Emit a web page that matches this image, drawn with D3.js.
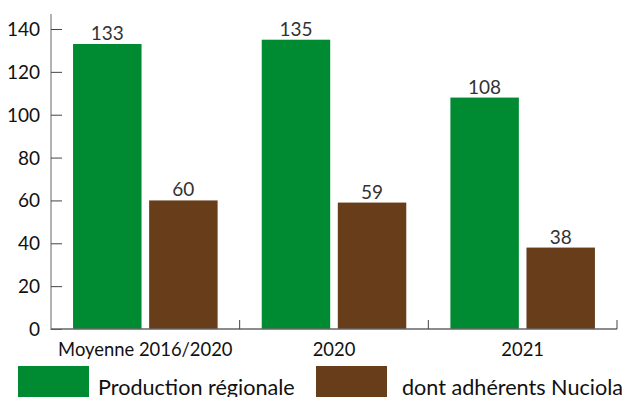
<!DOCTYPE html>
<html lang="fr">
<head>
<meta charset="UTF-8">
<title>Production</title>
<script src="https://d3js.org/d3.v7.min.js"></script>
<style>
  body { margin: 0; background: #fff; }
  svg text { font-family: Lato, "Open Sans", sans-serif; }
</style>
</head>
<body>
<svg width="622" height="397"></svg>
<script>
var categories = ["Moyenne 2016/2020", "2020", "2021"];
var seriesNames = ["Production régionale", "dont adhérents Nuciola"];
var production = [133, 135, 108];
var nuciola = [60, 59, 38];
var yTicks = [0, 20, 40, 60, 80, 100, 120, 140];
var colors = ["#008a32", "#673d1a"];

var svg = d3.select("svg");
var plotLeft = 51, plotRight = 617, plotTop = 14, plotBottom = 329;

var x0 = d3.scaleBand().domain(categories).range([plotLeft, plotRight]).padding(0);
var x1 = d3.scaleBand().domain([0, 1]).range([0, x0.bandwidth()])
    .paddingInner(0.1).paddingOuter(0.29);
var y = d3.scaleLinear().domain([0, 147]).range([plotBottom, plotTop]);

var data = categories.map(function (c, i) {
    return { cat: c, values: [production[i], nuciola[i]] };
});

// y axis, ticks pointing into the plot
var yAxis = svg.append("g")
    .attr("transform", "translate(" + plotLeft + ",0)")
    .call(d3.axisRight(y).tickValues(yTicks).tickSize(11).tickFormat(""));
yAxis.select(".domain").attr("d", "M0," + plotTop + "V" + (plotBottom + 1)).attr("stroke", "#666");
yAxis.selectAll("line").attr("stroke", "#444");

svg.append("g").selectAll("text")
    .data(yTicks).enter().append("text")
    .attr("x", 40).attr("y", function (d) { return y(d) + 7; })
    .attr("text-anchor", "end")
    .attr("font-size", 19).attr("fill", "#111")
    .text(function (d) { return d; });

// bars
var g = svg.append("g").selectAll("g")
    .data(data).enter().append("g")
    .attr("transform", function (d) { return "translate(" + x0(d.cat) + ",0)"; });

g.selectAll("rect")
    .data(function (d) { return d.values; })
    .enter().append("rect")
    .attr("x", function (d, i) { return x1(i); })
    .attr("y", function (d) { return y(d); })
    .attr("width", x1.bandwidth())
    .attr("height", function (d) { return plotBottom - y(d); })
    .attr("fill", function (d, i) { return colors[i]; });

g.selectAll("text")
    .data(function (d) { return d.values; })
    .enter().append("text")
    .attr("x", function (d, i) { return x1(i) + x1.bandwidth() / 2; })
    .attr("y", function (d) { return y(d) - 4; })
    .attr("text-anchor", "middle")
    .attr("font-size", 19).attr("fill", "#333")
    .text(function (d) { return d; });

// x axis with boundary ticks
var xAxis = svg.append("g")
    .attr("transform", "translate(0," + plotBottom + ")");
xAxis.append("line")
    .attr("x1", plotLeft).attr("x2", plotRight)
    .attr("stroke", "#666").attr("stroke-width", 1.5);
xAxis.selectAll(".sep")
    .data(categories).enter().append("line")
    .attr("x1", function (d) { return x0(d) + x0.bandwidth(); })
    .attr("x2", function (d) { return x0(d) + x0.bandwidth(); })
    .attr("y1", 0).attr("y2", -9)
    .attr("stroke", "#444");
xAxis.selectAll("text")
    .data(categories).enter().append("text")
    .attr("x", function (d) { return x0(d) + x0.bandwidth() / 2; })
    .attr("y", 27)
    .attr("text-anchor", "middle")
    .attr("font-size", 18.4).attr("fill", "#111")
    .text(function (d) { return d; });

// legend
var legX = [18, 316], legTextX = [98, 402];
var leg = svg.append("g").selectAll("g")
    .data(seriesNames).enter().append("g");
leg.append("rect")
    .attr("x", function (d, i) { return legX[i]; })
    .attr("y", 366).attr("width", 71).attr("height", 34)
    .attr("fill", function (d, i) { return colors[i]; });
leg.append("text")
    .attr("x", function (d, i) { return legTextX[i]; })
    .attr("y", 395)
    .attr("font-size", 21.6).attr("fill", "#111")
    .text(function (d) { return d; });
</script>
</body>
</html>
